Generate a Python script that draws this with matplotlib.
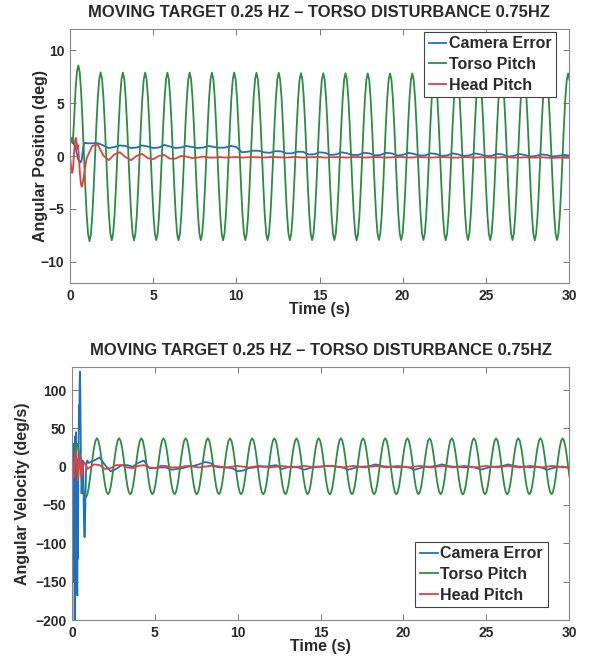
import numpy as np
import matplotlib.pyplot as plt

plt.rcParams['font.family'] = ['Liberation Sans', 'DejaVu Sans']
plt.rcParams['font.weight'] = 'bold'

title = 'MOVING TARGET 0.25 HZ \u2013 TORSO DISTURBANCE 0.75HZ'
labels = ['Camera Error', 'Torso Pitch', 'Head Pitch']
colors = ['#1f6fc1', '#2b8c46', '#e2413d']

# torso pitch, sampled 16 times per disturbance cycle (period read as ~1.3385 s)
torso_dt = 1.3385 / 16

torso_pos_start = [1.9, 1.4, 1.2, 3.6, 6.3, 8.0]
torso_pos_cycles = [
    [8.55, 7.9, 6.05, 3.3, 0.2, -2.95, -5.6, -7.4, -8.05, -7.4, -5.65, -3.05, 0.0, 3.0, 5.55, 7.25],
    [7.9, 7.3, 5.58, 3.02, 0.0, -3.04, -5.62, -7.34, -7.96, -7.34, -5.62, -3.04, -0.02, 3.0, 5.55, 7.26],
    [7.88, 7.28, 5.57, 3.02, 0.0, -3.05, -5.63, -7.36, -7.97, -7.36, -5.63, -3.05, 0.0, 3.01, 5.56, 7.26],
    [7.88, 7.28, 5.57, 3.01, -0.02, -3.04, -5.62, -7.34, -7.95, -7.34, -5.62, -3.04, 0.0, 3.0, 5.55, 7.25],
    [7.87, 7.27, 5.56, 3.01, 0.0, -3.04, -5.62, -7.35, -7.96, -7.35, -5.62, -3.04, 0.0, 3.0, 5.55, 7.25],
    [7.88, 7.28, 5.57, 3.02, 0.0, -3.04, -5.62, -7.34, -7.95, -7.34, -5.62, -3.04, -0.02, 3.0, 5.55, 7.25],
    [7.87, 7.27, 5.56, 3.01, 0.0, -3.05, -5.63, -7.36, -7.97, -7.36, -5.63, -3.05, 0.0, 3.0, 5.55, 7.25],
    [7.88, 7.28, 5.57, 3.02, 0.0, -3.04, -5.62, -7.34, -7.95, -7.34, -5.62, -3.04, 0.0, 3.0, 5.55, 7.25],
    [7.86, 7.26, 5.56, 3.01, -0.02, -3.04, -5.62, -7.34, -7.95, -7.34, -5.62, -3.04, 0.0, 3.0, 5.54, 7.24],
    [7.86, 7.26, 5.56, 3.01, 0.0, -3.04, -5.62, -7.35, -7.96, -7.35, -5.62, -3.04, 0.0, 2.99, 5.53, 7.23],
    [7.83, 7.23, 5.54, 3.0, 0.0, -3.04, -5.62, -7.34, -7.95, -7.34, -5.62, -3.04, -0.02, 2.99, 5.52, 7.22],
    [7.82, 7.22, 5.53, 2.99, 0.0, -3.04, -5.62, -7.34, -7.94, -7.34, -5.62, -3.04, 0.0, 2.99, 5.52, 7.22],
    [7.82, 7.22, 5.53, 2.99, -0.02, -3.05, -5.63, -7.35, -7.96, -7.35, -5.63, -3.05, 0.0, 2.99, 5.52, 7.22],
    [7.81, 7.21, 5.52, 2.99, 0.0, -3.04, -5.62, -7.34, -7.94, -7.34, -5.62, -3.04, 0.0, 2.98, 5.51, 7.21],
    [7.8, 7.2, 5.52, 2.98, 0.0, -3.04, -5.62, -7.34, -7.95, -7.34, -5.62, -3.04, -0.02, 2.98, 5.51, 7.21],
    [7.8, 7.2, 5.52, 2.98, 0.0, -3.04, -5.62, -7.34, -7.94, -7.34, -5.62, -3.04, 0.0, 2.98, 5.51, 7.21],
    [7.8, 7.2, 5.52, 2.98, -0.02, -3.05, -5.63, -7.35, -7.96, -7.35, -5.63, -3.05, 0.0, 2.98, 5.51, 7.2],
    [7.79, 7.2, 5.51, 2.98, 0.0, -3.04, -5.62, -7.34, -7.94, -7.34, -5.62, -3.04, 0.0, 2.98, 5.51, 7.2],
    [7.8, 7.2, 5.52, 2.98, 0.0, -3.04, -5.62, -7.34, -7.95, -7.34, -5.62, -3.04, -0.02, 2.98, 5.51, 7.2],
    [7.79, 7.2, 5.51, 2.98, 0.0, -3.04, -5.62, -7.34, -7.94, -7.34, -5.62, -3.04, 0.0, 2.98, 5.51, 7.2],
    [7.8, 7.2, 5.52, 2.98, -0.02, -3.05, -5.63, -7.35, -7.96, -7.35, -5.63, -3.05, 0.0, 2.98, 5.51, 7.2],
    [7.79, 7.2, 5.51, 2.98, 0.0, -3.04, -5.62, -7.34, -7.94, -7.34, -5.62, -3.04, 0.0, 2.98, 5.51, 7.2],
]
torso_pos_end = [7.8, 7.2]

torso_vel_start = [2, -6, 10, 29, 30, 18]
torso_vel_cycles = [
    [2, -14, -28, -37, -40, -37, -28, -15, 0, 14, 26, 34, 37, 34, 26, 14],
    [0, -13.8, -25.5, -33.3, -36, -33.3, -25.5, -13.8, 0, 14.2, 26.2, 34.2, 37, 34.2, 26.2, 14.2],
    [0, -13.8, -25.6, -33.4, -36.1, -33.4, -25.6, -13.8, 0, 14.2, 26.2, 34.2, 37, 34.2, 26.2, 14.2],
    [0, -13.8, -25.5, -33.3, -36, -33.3, -25.5, -13.8, 0, 14.1, 26.1, 34.1, 36.9, 34.1, 26.1, 14.1],
    [0, -13.8, -25.5, -33.3, -36, -33.3, -25.5, -13.8, 0, 14.2, 26.2, 34.2, 37, 34.2, 26.2, 14.2],
    [0, -13.9, -25.6, -33.4, -36.2, -33.4, -25.6, -13.9, 0, 14.2, 26.2, 34.2, 37, 34.2, 26.2, 14.2],
    [0, -13.8, -25.5, -33.3, -36, -33.3, -25.5, -13.8, 0, 14.1, 26.1, 34.1, 36.9, 34.1, 26.1, 14.1],
    [0, -13.8, -25.5, -33.3, -36, -33.3, -25.5, -13.8, 0, 14.2, 26.2, 34.2, 37, 34.2, 26.2, 14.2],
    [0, -13.8, -25.6, -33.4, -36.1, -33.4, -25.6, -13.8, 0, 14.2, 26.2, 34.2, 37, 34.2, 26.2, 14.2],
    [0, -13.8, -25.5, -33.3, -36, -33.3, -25.5, -13.8, 0, 14.1, 26.1, 34.1, 36.9, 34.1, 26.1, 14.1],
    [0, -13.8, -25.5, -33.3, -36, -33.3, -25.5, -13.8, 0, 14.2, 26.2, 34.2, 37, 34.2, 26.2, 14.2],
    [0, -13.9, -25.6, -33.4, -36.2, -33.4, -25.6, -13.9, 0, 14.2, 26.2, 34.2, 37, 34.2, 26.2, 14.2],
    [0, -13.8, -25.5, -33.3, -36, -33.3, -25.5, -13.8, 0, 14.1, 26.1, 34.1, 36.9, 34.1, 26.1, 14.1],
    [0, -13.8, -25.5, -33.3, -36, -33.3, -25.5, -13.8, 0, 14.2, 26.2, 34.2, 37, 34.2, 26.2, 14.2],
    [0, -13.8, -25.6, -33.4, -36.1, -33.4, -25.6, -13.8, 0, 14.2, 26.2, 34.2, 37, 34.2, 26.2, 14.2],
    [0, -13.8, -25.5, -33.3, -36, -33.3, -25.5, -13.8, 0, 14.1, 26.1, 34.1, 36.9, 34.1, 26.1, 14.1],
    [0, -13.8, -25.5, -33.3, -36, -33.3, -25.5, -13.8, 0, 14.2, 26.2, 34.2, 37, 34.2, 26.2, 14.2],
    [0, -13.9, -25.6, -33.4, -36.2, -33.4, -25.6, -13.9, 0, 14.2, 26.2, 34.2, 37, 34.2, 26.2, 14.2],
    [0, -13.8, -25.5, -33.3, -36, -33.3, -25.5, -13.8, 0, 14.1, 26.1, 34.1, 36.9, 34.1, 26.1, 14.1],
    [0, -13.8, -25.5, -33.3, -36, -33.3, -25.5, -13.8, 0, 14.2, 26.2, 34.2, 37, 34.2, 26.2, 14.2],
    [0, -13.8, -25.6, -33.4, -36.1, -33.4, -25.6, -13.8, 0, 14.2, 26.2, 34.2, 37, 34.2, 26.2, 14.2],
    [0, -13.8, -25.5, -33.3, -36, -33.3, -25.5, -13.8, 0, 14.1, 26.1, 34.1, 36.9, 34.1, 26.1, 14.1],
]
torso_vel_end = [0, -13.8]

# camera error / head pitch: dense samples for the first second, then every 1/3 s
t_fast = np.linspace(0, 0.96, 25)
t_vfast = np.linspace(0, 0.98, 50)   # camera velocity transient, sampled finer
t_slow = np.linspace(1, 30, 88)

cam_pos_fast = [1.8, 1.6, 1.5, 1.7, 1.5, 1.3, 1.1, 1.0, 0.9, 0.6,
                0.3, 0.0, -0.3, -0.4, -0.5, -0.5, -0.6, -0.5, -0.2, 0.4,
                0.85, 1.1, 1.2, 1.25, 1.25]
cam_pos_slow = [1.2, 1.2, 1.22, 1.0, 0.75, 0.85, 1.0, 0.95, 0.75, 0.8,
                1.0, 0.9, 0.75, 0.8, 1.05, 0.9, 0.75, 0.8, 0.95, 0.85,
                0.75, 0.8, 0.95, 0.85, 0.78, 0.8, 0.95, 0.85, 0.35, 0.4,
                0.5, 0.5, 0.35, 0.3, 0.45, 0.45, 0.25, 0.25, 0.4, 0.4,
                0.15, 0.15, 0.35, 0.3, 0.1, 0.15, 0.35, 0.25, 0.1, 0.1,
                0.3, 0.25, 0.05, 0.1, 0.3, 0.25, 0.05, 0.1, 0.3, 0.2,
                0.05, 0.05, 0.25, 0.2, 0.0, 0.05, 0.25, 0.15, 0.0, 0.05,
                0.25, 0.15, 0.0, 0.0, 0.2, 0.15, -0.05, 0.0, 0.2, 0.1,
                -0.05, 0.0, 0.15, 0.1, -0.05, 0.0, 0.1, 0.05]

head_pos_fast = [0.0, -0.6, -1.2, -1.6, -1.5, -0.8, 0.2, 1.0, 1.6, 1.7,
                 1.2, 0.7, 1.0, 0.3, -0.8, -1.7, -2.4, -2.85, -2.9, -2.6,
                 -2.2, -1.8, -1.4, -1.0, -0.6]
head_pos_slow = [-0.2, 0.95, 1.1, 0.05, -0.4, 0.15, 0.35, -0.1, -0.4, 0.0,
                 0.2, -0.2, -0.3, 0.0, 0.1, -0.25, -0.25, 0.0, -0.05, -0.2,
                 -0.15, -0.05, -0.15, -0.15, -0.1, -0.15, -0.12, -0.1, -0.15, -0.12,
                 -0.1, -0.12, -0.15, -0.1, -0.1, -0.12, -0.15, -0.1, -0.1, -0.15,
                 -0.12, -0.1, -0.1, -0.15, -0.12, -0.1, -0.12, -0.15, -0.1, -0.1,
                 -0.15, -0.12, -0.1, -0.12, -0.15, -0.12, -0.1, -0.1, -0.15, -0.12,
                 -0.1, -0.12, -0.15, -0.12, -0.1, -0.12, -0.15, -0.15, -0.1, -0.12,
                 -0.15, -0.12, -0.12, -0.15, -0.15, -0.1, -0.12, -0.15, -0.15, -0.12,
                 -0.15, -0.15, -0.12, -0.15, -0.18, -0.15, -0.15, -0.18]

cam_vel_fast = [0, 20, -40, 30, -90, 10, -150, 20, -215, -100,
                40, -60, 45, -120, 10, -150, -168, -60, -120, -20,
                30, 80, 50, 110, 124, 100, 60, 0, -20, -35,
                -20, 5, 8, 5, -10, -40, -70, -85, -92, -80,
                -55, -30, -10, 0, 5, 6, 8, 8, 6, 5]
cam_vel_slow = [5, 8, 12, 2, -6, -3, 2, 2, 0, 5,
                8, -2, -2, -1, -1, -4, -3, -2, 0, 1,
                3, 6, 5, 0, -1, -1, -2, -6, -5, -2,
                -1, 0, 0, 1, 2, -3, -1, 0, -1, -4,
                -2, 0, 0, 1, 1, 0, -1, -4, -2, 0,
                0, 1, 3, 1, 0, 0, -1, 0, -1, -4,
                -2, 0, 0, 1, 3, 1, 0, 0, -1, 0,
                -1, -4, -2, 0, 0, 1, 3, 1, 0, 0,
                -1, 0, -1, -4, -2, 0, 0, -2]

head_vel_fast = [0, 6, -8, -14, 2, 16, 20, 8, -6, -18,
                 -8, 10, 16, 4, -10, -12, -4, 4, 6, 5,
                 3, 2, 0, -2, -3]
head_vel_slow = [-2, 3, 2, -3, -2, 2, 2, -1, -2, 1,
                 2, -1, -2, 1, 1, -1, -1, 0, 1, 0,
                 -1, 0, 1, 1, 0, -1, 0, 1, 0, -1,
                 0, 1, 0, -1, 0, 1, 0, -1, 0, 1,
                 0, -1, 0, 1, 1, 0, -1, 0, 1, 0,
                 -1, 0, 1, 0, -1, 0, 1, 0, -1, 0,
                 1, 0, -1, 0, 1, 0, -1, 0, 1, 0,
                 -1, 0, 1, 0, -1, 0, 1, 0, -1, 0,
                 1, 0, -1, 0, 1, 0, -1, 0]

torso_pos = np.concatenate([torso_pos_start, np.ravel(torso_pos_cycles), torso_pos_end])
torso_vel = np.concatenate([torso_vel_start, np.ravel(torso_vel_cycles), torso_vel_end])
t_torso = np.arange(len(torso_pos)) * torso_dt
t_small = np.concatenate([t_fast, t_slow])
t_cam_vel = np.concatenate([t_vfast, t_slow])

text_col = '#2a2a2a'
fig = plt.figure(figsize=(5.92, 6.6), dpi=100)
ax1 = fig.add_axes([70 / 592, 1 - 283 / 660, 499 / 592, 254 / 660])
ax2 = fig.add_axes([72 / 592, 1 - 620 / 660, 497 / 592, 253 / 660])

panels = [
    (ax1, t_small, cam_pos_fast + cam_pos_slow, torso_pos, head_pos_fast + head_pos_slow,
     'Angular Position (deg)', (-12, 12), [-10, -5, 0, 5, 10], -0.045,
     dict(loc='upper right', bbox_to_anchor=(0.974, 0.99))),
    (ax2, t_cam_vel, cam_vel_fast + cam_vel_slow, torso_vel, head_vel_fast + head_vel_slow,
     'Angular Velocity (deg/s)', (-200, 130), [-200, -150, -100, -50, 0, 50, 100], -0.085,
     dict(loc='lower right', bbox_to_anchor=(0.957, 0.05))),
]

for ax, t_cam, cam, torso, head, ylab, ylim, yticks, ylab_x, leg_kw in panels:
    ax.plot(t_cam, cam, color=colors[0], lw=1.3, label=labels[0])
    ax.plot(t_torso, torso, color=colors[1], lw=1.3, label=labels[1])
    ax.plot(t_small, head, color=colors[2], lw=1.3, label=labels[2])
    ax.set_xlim(0, 30)
    ax.set_ylim(*ylim)
    ax.set_xticks([0, 5, 10, 15, 20, 25, 30])
    ax.set_yticks(yticks)
    ax.tick_params(direction='in', top=True, right=True, length=4, width=0.7,
                   color='#777777', labelsize=10, labelcolor=text_col, pad=4)
    for sp in ax.spines.values():
        sp.set_color('#888888')
        sp.set_linewidth(0.8)
    ax.set_title(title, fontsize=11.9, fontweight='bold', color=text_col, pad=8.5)
    ax.set_ylabel(ylab, fontsize=11.5, fontweight='bold', color=text_col)
    ax.yaxis.set_label_coords(ylab_x, 0.5)
    ax.set_xlabel('Time (s)', fontsize=11.5, fontweight='bold', color=text_col)
    ax.xaxis.set_label_coords(0.5, -0.075)
    leg = ax.legend(fontsize=11.5, handlelength=1.1, handletextpad=0.15,
                    borderpad=0.3, labelspacing=0.35, borderaxespad=0,
                    fancybox=False, framealpha=1, **leg_kw)
    leg.get_frame().set_edgecolor('#444444')
    leg.get_frame().set_linewidth(0.8)
    for txt in leg.get_texts():
        txt.set_color(text_col)

fig.savefig('out.png', dpi=100, facecolor='white')
